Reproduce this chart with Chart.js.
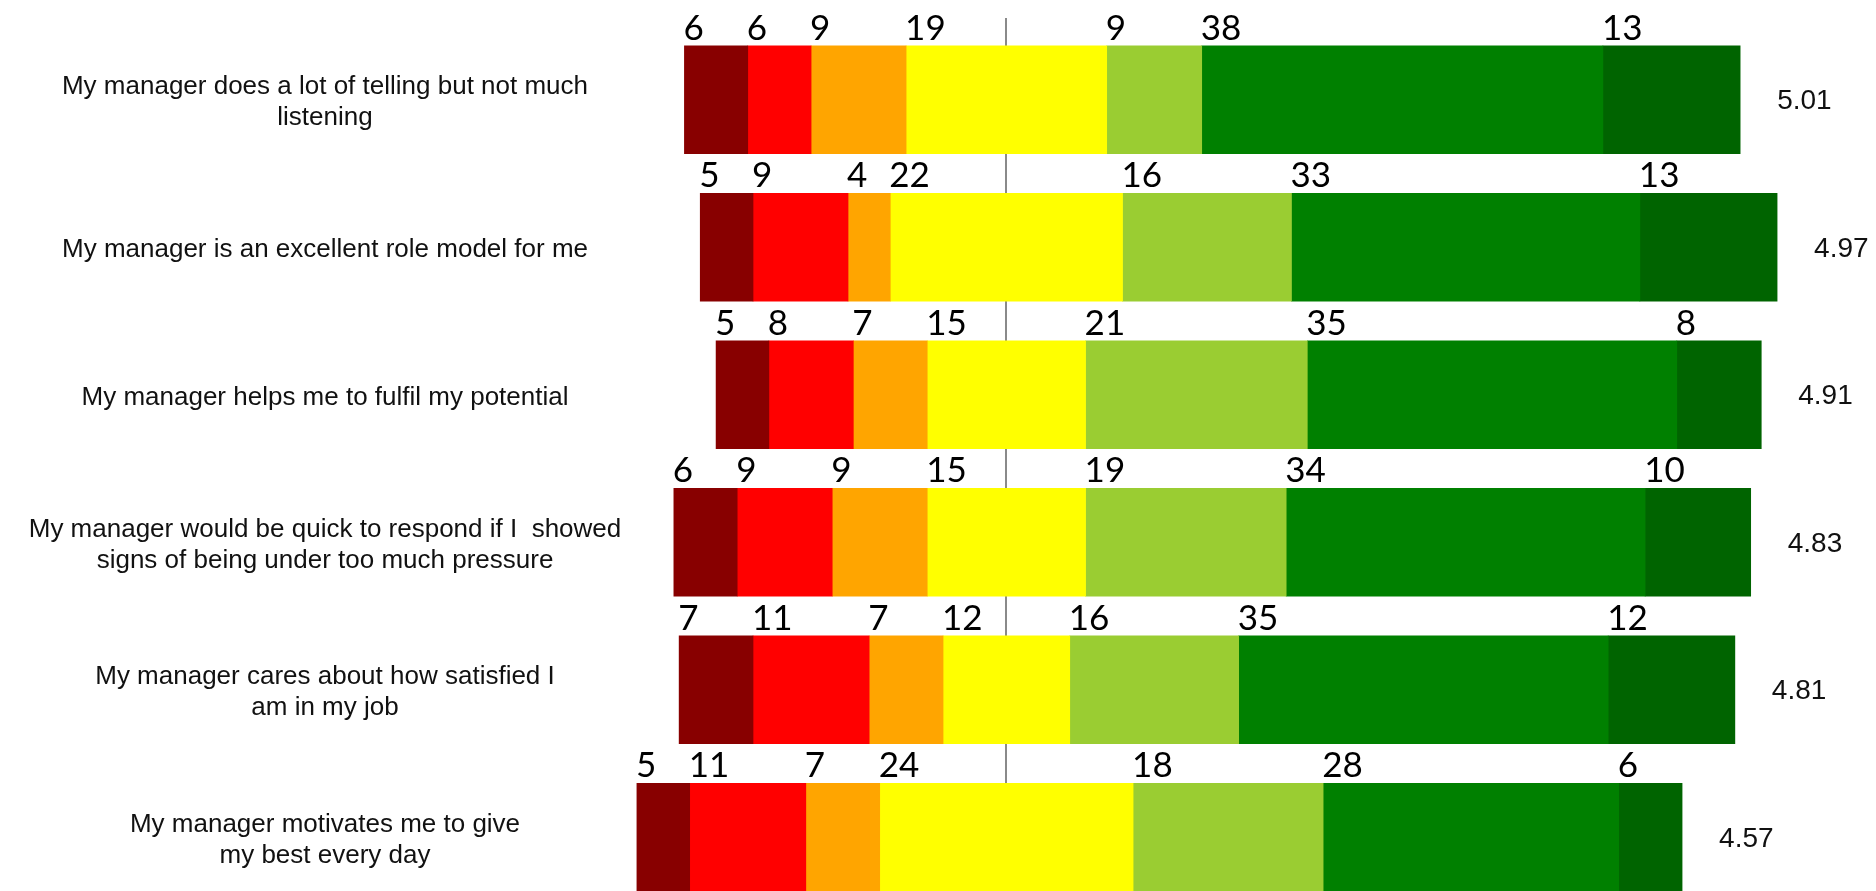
<!DOCTYPE html>
<html>
<head>
<meta charset="utf-8">
<script src="https://cdn.jsdelivr.net/npm/chart.js@4/dist/chart.umd.min.js"></script>
<style>
  html, body { margin: 0; padding: 0; background: #ffffff; overflow: hidden; }
  #wrap { width: 1876px; height: 930px; }
</style>
</head>
<body>
<div id="wrap"><canvas id="chart" width="1876" height="930"></canvas></div>
<script>
// Statements (each entry is the wrapped lines of one label)
const statements = [
  ['My manager does a lot of telling but not much', 'listening'],
  ['My manager is an excellent role model for me'],
  ['My manager helps me to fulfil my potential'],
  ['My manager would be quick to respond if I  showed', 'signs of being under too much pressure'],
  ['My manager cares about how satisfied I', 'am in my job'],
  ['My manager motivates me to give', 'my best every day']
];

// Percentage of responses at each point of the 7-point scale
const stronglyDisagree = [6, 5, 5, 6, 7, 5];
const disagree         = [6, 9, 8, 9, 11, 11];
const slightlyDisagree = [9, 4, 7, 9, 7, 7];
const neutral          = [19, 22, 15, 15, 12, 24];
const slightlyAgree    = [9, 16, 21, 19, 16, 18];
const agree            = [38, 33, 35, 34, 35, 28];
const stronglyAgree    = [13, 13, 8, 10, 12, 6];

// Mean score per statement
const meanScores = [5.01, 4.97, 4.91, 4.83, 4.81, 4.57];

const levelNames = ['Strongly disagree', 'Disagree', 'Slightly disagree', 'Neither',
                    'Slightly agree', 'Agree', 'Strongly agree'];
const levels = [stronglyDisagree, disagree, slightlyDisagree, neutral,
                slightlyAgree, agree, stronglyAgree];
const levelColors = ['#880000', '#ff0000', '#ffa500', '#ffff00', '#9acd32', '#008000', '#006400'];

// Diverging layout: each bar is shifted so the neutral segment straddles zero
const rowStart = statements.map((_, i) =>
  -(stronglyDisagree[i] + disagree[i] + slightlyDisagree[i] + neutral[i] / 2));

const datasets = levels.map((vals, k) => ({
  label: levelNames[k],
  data: vals.map((v, i) => {
    let s = rowStart[i];
    for (let j = 0; j < k; j++) s += levels[j][i];
    return [s, s + v];
  }),
  backgroundColor: levelColors[k],
  borderWidth: 0,
  grouped: false,
  barThickness: 108
}));

const overlay = {
  id: 'overlay',
  beforeDatasetsDraw(chart) {
    const ctx = chart.ctx;
    const x0 = Math.round(chart.scales.x.getPixelForValue(0));
    ctx.save();
    ctx.strokeStyle = '#8a8a8a';
    ctx.lineWidth = 2;
    ctx.beginPath();
    ctx.moveTo(x0, 18);
    ctx.lineTo(x0, chart.height);
    ctx.stroke();
    ctx.restore();
  },
  afterDatasetsDraw(chart) {
    const ctx = chart.ctx;
    const yScale = chart.scales.y;
    ctx.save();

    // statement labels on the left
    ctx.fillStyle = '#111111';
    ctx.font = '26px "Liberation Sans", Arial, sans-serif';
    ctx.textAlign = 'center';
    ctx.textBaseline = 'middle';
    statements.forEach((lines, i) => {
      const cy = yScale.getPixelForValue(i) + 3;
      const lh = 31;
      lines.forEach((line, j) => {
        ctx.fillText(line, 325, cy + (j - (lines.length - 1) / 2) * lh);
      });
    });

    // percentage labels above each segment
    ctx.fillStyle = '#000000';
    ctx.font = '35px Lato, "Open Sans", sans-serif';
    ctx.textAlign = 'left';
    ctx.textBaseline = 'alphabetic';
    levels.forEach((vals, k) => {
      const meta = chart.getDatasetMeta(k);
      meta.data.forEach((el, i) => {
        const p = el.getProps(['x', 'base', 'y', 'height'], true);
        const left = Math.min(p.x, p.base);
        const top = p.y - p.height / 2;
        ctx.fillText(String(vals[i]), left - 1, top - 6);
      });
    });

    // mean score to the right of each bar
    ctx.fillStyle = '#111111';
    ctx.font = '28px "Liberation Sans", Arial, sans-serif';
    ctx.textBaseline = 'middle';
    const lastMeta = chart.getDatasetMeta(levels.length - 1);
    lastMeta.data.forEach((el, i) => {
      const p = el.getProps(['x', 'base', 'y'], true);
      ctx.fillText(meanScores[i].toFixed(2), Math.max(p.x, p.base) + 37, p.y + 2);
    });

    ctx.restore();
  }
};

new Chart(document.getElementById('chart'), {
  type: 'bar',
  data: { labels: statements, datasets },
  options: {
    indexAxis: 'y',
    responsive: false,
    animation: false,
    layout: { padding: { left: 563, right: 25, top: 26, bottom: 19 } },
    scales: {
      x: { type: 'linear', min: -42, max: 80, display: false },
      y: { type: 'category', display: false, offset: true }
    },
    plugins: {
      legend: { display: false },
      tooltip: { enabled: false }
    }
  },
  plugins: [overlay]
});
</script>
</body>
</html>
